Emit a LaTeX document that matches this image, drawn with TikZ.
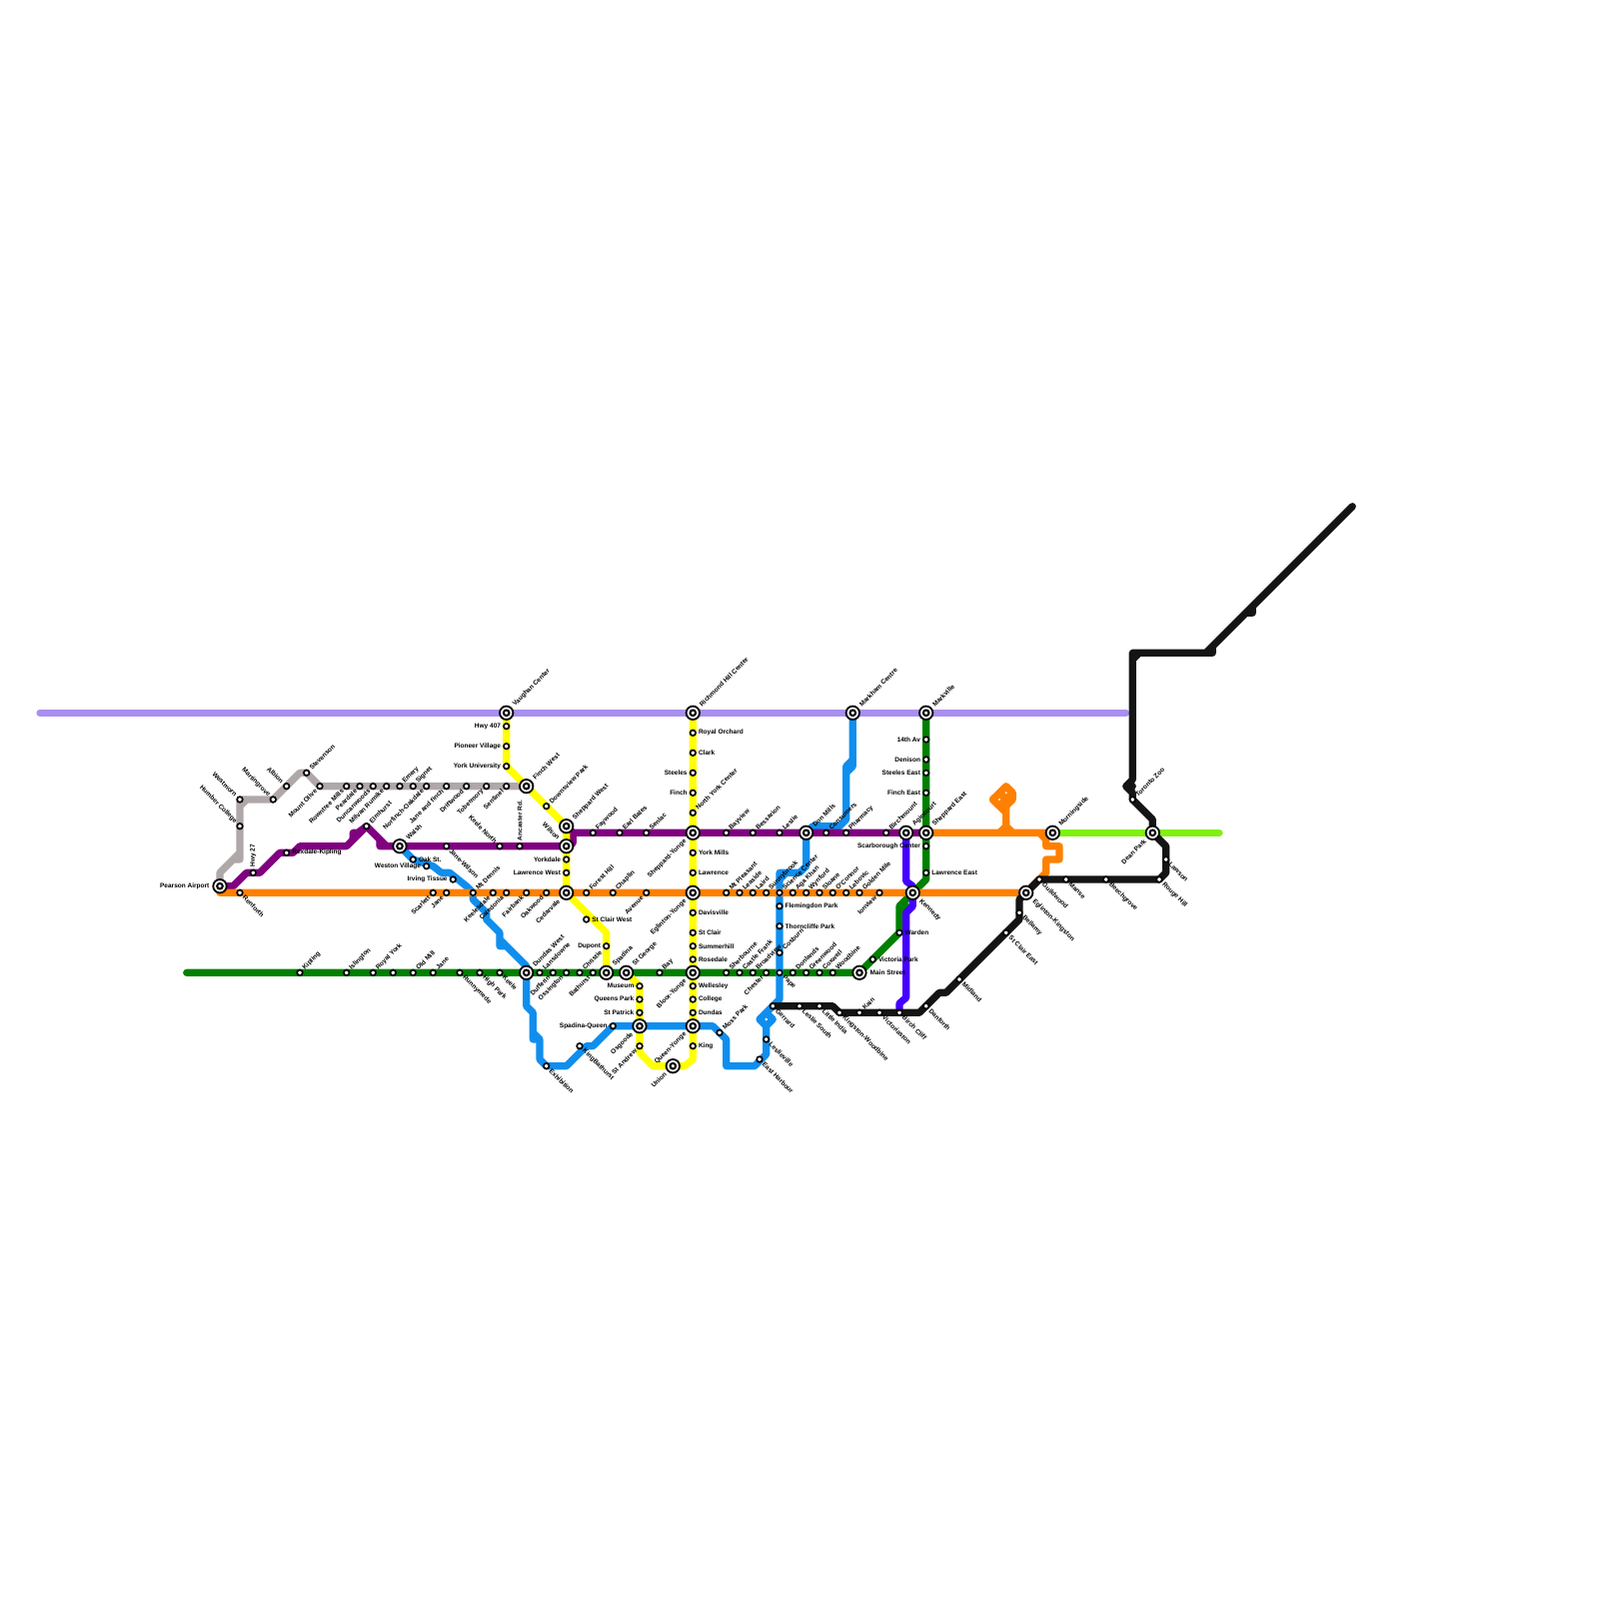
\documentclass[tikz,border=0pt]{standalone}
\usepackage{fontspec}
\setmainfont{Liberation Sans}
\pgfdeclarelayer{lines}
\pgfsetlayers{lines,main}
\tikzset{
  x=0.1mm,y=-0.1mm,
  metro/.style={line width=0.72mm,line cap=round,line join=round},
  stationdot/.style={circle,draw=black,fill=white,line width=0.17mm,minimum size=0.56mm,inner sep=0},
  hubouter/.style={circle,draw=black,fill=white,line width=0.18mm,minimum size=1.34mm,inner sep=0},
  hubinner/.style={circle,draw=black,fill=white,line width=0.2mm,minimum size=0.56mm,inner sep=0},
  holedot/.style={circle,fill=white,minimum size=0.22mm,inner sep=0},
  lab/.style={font=\bfseries\fontsize{1.85}{2.2}\selectfont,text=black,inner sep=0.5mm},
  lR/.style={lab,anchor=west},
  lL/.style={lab,anchor=east},
  lUR/.style={lab,rotate=45,anchor=west},
  lDR/.style={lab,rotate=-45,anchor=west},
  lDL/.style={lab,rotate=45,anchor=east},
  lUL/.style={lab,rotate=-45,anchor=east},
  lU/.style={lab,rotate=90,anchor=west},
}
\definecolor{cLav}{HTML}{A98FEF}
\definecolor{cGrey}{HTML}{B0A8A8}
\definecolor{cBlue}{HTML}{108EEE}
\definecolor{cGreen}{HTML}{008000}
\definecolor{cPurple}{HTML}{800080}
\definecolor{cOrange}{HTML}{FF8000}
\definecolor{cYellow}{HTML}{FFFF00}
\definecolor{cIndigo}{HTML}{4400FF}
\definecolor{cLime}{HTML}{80F010}
\definecolor{cBlack}{HTML}{141414}
\newcommand\stn[5]{\node[stationdot] (#1) at (#2,#3) {}; \node[#4] (#1-t) at (#2,#3) {#5};}
\newcommand\stp[3]{\node[stationdot] (#1) at (#2,#3) {};}
\newcommand\hub[5]{\node[hubouter] (#1) at (#2,#3) {}; \node[hubinner] (#1-i) at (#2,#3) {}; \node[#4,inner sep=1mm] (#1-t) at (#2,#3) {#5};}
\begin{document}
\begin{tikzpicture}
\useasboundingbox (0,0) rectangle (1600,1600);
% interchanges
\hub{pearson}{220}{886.7}{lL}{Pearson Airport}
\hub{finchw}{526.7}{786.7}{lUR}{Finch West}
\hub{walsh}{400}{846.7}{lUR}{Walsh}
\hub{cedarvale}{566.7}{893.3}{lDL}{Cedarvale}
\hub{egyonge}{693.3}{893.3}{lDL}{Eglinton-Yonge}
\hub{wilson}{566.7}{846.7}{lUL}{Wilson}
\hub{shepw}{566.7}{826.7}{lUR}{Sheppard West}
\hub{shepyonge}{693.3}{833.3}{lDL}{Sheppard-Yonge}
\hub{vaughan}{506.7}{713.3}{lUR}{Vaughan Center}
\hub{richmond}{693.3}{713.3}{lUR}{Richmond Hill Center}
\hub{spadina}{606.7}{973.3}{lUR}{Spadina}
\hub{stgeorge}{626.7}{973.3}{lUR}{St George}
\hub{bloor}{693.3}{973.3}{lDL}{Bloor-Yonge}
\hub{dundasw}{526.7}{973.3}{lUR}{Dundas West}
\hub{osgoode}{640}{1026.7}{lDL}{Osgoode}
\hub{union}{673.3}{1066.7}{lDL}{Union}
\hub{queenyonge}{693.3}{1026.7}{lDL}{Queen-Yonge}
\hub{donmills}{806.7}{833.3}{lUR}{Don Mills}
\hub{agincourt}{906.7}{833.3}{lUR}{Agincourt}
\hub{shepe}{926.7}{833.3}{lUR}{Sheppard East}
\hub{kennedy}{913.3}{893.3}{lDR}{Kennedy}
\hub{markham}{853.3}{713.3}{lUR}{Markham Centre}
\hub{markville}{926.7}{713.3}{lUR}{Markville}
\hub{mainst}{860}{973.3}{lR}{Main Street}
\hub{egkingston}{1026.7}{893.3}{lDR}{Eglinton-Kingston}
\hub{morningside}{1053.3}{833.3}{lUR}{Morningside}
\hub{deanpark}{1153.3}{833.3}{lDL}{Dean Park}
% grey
\stn{renforth}{240}{893.3}{lDR}{Renforth}
\stn{hwy27}{253.3}{873.3}{lU}{Hwy 27}
\stn{rexdale}{286.7}{853.3}{lR}{Rexdale-Kipling}
\stn{humber}{240}{826.7}{lUL}{Humber College}
\stn{westmorn}{240}{800}{lUL}{Westmorn}
\stn{martingrove}{273.3}{800}{lUL}{Martingrove}
\stn{albion}{286.7}{786.7}{lUL}{Albion}
\stn{stevenson}{306.7}{773.3}{lUR}{Stevenson}
\stn{mountolive}{320}{786.7}{lDL}{Mount Olive}
\stn{rowntree}{346.7}{786.7}{lDL}{Rowntree Mills}
\stn{peardale}{360}{786.7}{lDL}{Peardale}
\stn{duncan}{373.3}{786.7}{lDL}{Duncanwoods}
\stn{milvan}{386.7}{786.7}{lDL}{Milvan Rumike}
\stn{emery}{400}{786.7}{lUR}{Emery}
\stn{signet}{413.3}{786.7}{lUR}{Signet}
\stn{norfinch}{426.7}{786.7}{lDL}{Norfinch-Oakdale}
\stn{janefinch}{446.7}{786.7}{lDL}{Jane and finch}
\stn{driftwood}{466.7}{786.7}{lDL}{Driftwood}
\stn{tobermory}{486.7}{786.7}{lDL}{Tobermory}
\stn{sentinel}{506.7}{786.7}{lDL}{Sentinel}
% purple
\stn{elmhurst}{366.7}{826.7}{lUR}{Elmhurst}
\stn{janewilson}{446.7}{846.7}{lDR}{Jane-Wilson}
\stn{keelenorth}{500}{846.7}{lUL}{Keele North}
\stn{ancaster}{520}{846.7}{lU}{Ancaster Rd.}
\stn{faywood}{593.3}{833.3}{lUR}{Faywood}
\stn{earlbales}{620}{833.3}{lUR}{Earl Bales}
\stn{senlac}{646.7}{833.3}{lUR}{Senlac}
\stn{bayview}{726.7}{833.3}{lUR}{Bayview}
\stn{bessarion}{753.3}{833.3}{lUR}{Bessarion}
\stn{leslie}{780}{833.3}{lUR}{Leslie}
\stn{consumers}{826.7}{833.3}{lUR}{Consumers}
\stn{pharmacy}{846.7}{833.3}{lUR}{Pharmacy}
\stn{birchmount}{886.7}{833.3}{lUR}{Birchmount}
% blue
\stn{oakst}{413.3}{860}{lR}{Oak St.}
\stn{weston}{426.7}{866.7}{lL}{Weston Village}
\stn{irving}{453.3}{880}{lL}{Irving Tissue}
\stn{spadinaq}{613.3}{1026.7}{lL}{Spadina-Queen}
\stn{kingbathurst}{580}{1046.7}{lDR}{KingBathurst}
\stn{exhibition}{546.7}{1066.7}{lDR}{Exhibition}
\stn{mosspark}{720}{1033.3}{lUR}{Moss Park}
\stn{leslieville}{766.7}{1040}{lDR}{Leslieville}
\stn{eastharbour}{760}{1060}{lDR}{East Harbour}
\stn{flemingdon}{780}{906.7}{lR}{Flemingdon Park}
\stn{thorncliffe}{780}{926.7}{lR}{Thorncliffe Park}
\stn{cosburn}{780}{953.3}{lUR}{Cosburn}
\stn{pape}{780}{973.3}{lDR}{Pape}
% orange
\stn{scarlett}{433.3}{893.3}{lDL}{Scarlett}
\stn{janeo}{446.7}{893.3}{lDL}{Jane}
\stn{mtdennis}{473.3}{893.3}{lUR}{Mt Dennis}
\stn{keelesdale}{493.3}{893.3}{lDL}{Keelesdale}
\stn{caledonia}{506.7}{893.3}{lDL}{Caledonia}
\stn{fairbank}{526.7}{893.3}{lDL}{Fairbank}
\stn{oakwood}{546.7}{893.3}{lDL}{Oakwood}
\stn{foresthill}{586.7}{893.3}{lUR}{Forest Hill}
\stn{chaplin}{613.3}{893.3}{lUR}{Chaplin}
\stn{avenue}{646.7}{893.3}{lDL}{Avenue}
\stn{mtpleasant}{726.7}{893.3}{lUR}{Mt Pleasant}
\stn{leaside}{740}{893.3}{lUR}{Leaside}
\stn{laird}{753.3}{893.3}{lUR}{Laird}
\stn{sunnybrook}{766.7}{893.3}{lUR}{Sunnybrook}
\stn{science}{780}{893.3}{lUR}{Science Center}
\stn{agakhan}{793.3}{893.3}{lUR}{Aga Khan}
\stn{wynford}{806.7}{893.3}{lUR}{Wynford}
\stn{sloane}{820}{893.3}{lUR}{Sloane}
\stn{oconnor}{833.3}{893.3}{lUR}{O'Connor}
\stn{lebovic}{846.7}{893.3}{lUR}{Lebovic}
\stn{goldenmile}{860}{893.3}{lUR}{Golden Mile}
\stn{ionview}{880}{893.3}{lDL}{Ionview}
\stn{guildwood}{1040}{880}{lDR}{Guildwood}
% yellow
\stn{hwy407}{506.7}{726.7}{lL}{Hwy 407}
\stn{pioneer}{506.7}{746.7}{lL}{Pioneer Village}
\stn{yorku}{506.7}{766.7}{lL}{York University}
\stn{downsview}{546.7}{806.7}{lUR}{Downsview Park}
\stn{yorkdale}{566.7}{860}{lL}{Yorkdale}
\stn{lawrencew}{566.7}{873.3}{lL}{Lawrence West}
\stn{stclairw}{586.7}{920}{lR}{St Clair West}
\stn{dupont}{606.7}{946.7}{lL}{Dupont}
\stn{museum}{640}{986.7}{lL}{Museum}
\stn{queenspark}{640}{1000}{lL}{Queens Park}
\stn{stpatrick}{640}{1013.3}{lL}{St Patrick}
\stn{standrew}{640}{1046.7}{lDL}{St Andrew}
\stn{king}{693.3}{1046.7}{lR}{King}
\stn{dundas}{693.3}{1013.3}{lR}{Dundas}
\stn{college}{693.3}{1000}{lR}{College}
\stn{wellesley}{693.3}{986.7}{lR}{Wellesley}
\stn{rosedale}{693.3}{960}{lR}{Rosedale}
\stn{summerhill}{693.3}{946.7}{lR}{Summerhill}
\stn{stclair}{693.3}{933.3}{lR}{St Clair}
\stn{davisville}{693.3}{913.3}{lR}{Davisville}
\stn{lawrence}{693.3}{873.3}{lR}{Lawrence}
\stn{yorkmills}{693.3}{853.3}{lR}{York Mills}
\stn{nyc}{693.3}{813.3}{lUR}{North York Center}
\stn{finch}{693.3}{793.3}{lL}{Finch}
\stn{steeles}{693.3}{773.3}{lL}{Steeles}
\stn{clark}{693.3}{753.3}{lR}{Clark}
\stn{royalorchard}{693.3}{733.3}{lR}{Royal Orchard}
% green
\stn{kipling}{300}{973.3}{lUR}{Kipling}
\stn{islington}{346.7}{973.3}{lUR}{Islington}
\stn{royalyork}{373.3}{973.3}{lUR}{Royal York}
\stp{unnamedg}{393.3}{973.3}
\stn{oldmill}{413.3}{973.3}{lUR}{Old Mill}
\stn{janeg}{433.3}{973.3}{lUR}{Jane}
\stn{runnymede}{460}{973.3}{lDR}{Runnymede}
\stn{highpark}{480}{973.3}{lDR}{High Park}
\stn{keele}{500}{973.3}{lDR}{Keele}
\stn{lansdowne}{540}{973.3}{lUR}{Lansdowne}
\stn{dufferin}{553.3}{973.3}{lDL}{Dufferin}
\stn{ossington}{566.7}{973.3}{lDL}{Ossington}
\stn{christie}{580}{973.3}{lUR}{Christie}
\stn{bathurst}{593.3}{973.3}{lDL}{Bathurst}
\stn{bay}{660}{973.3}{lUR}{Bay}
\stn{sherbourne}{726.7}{973.3}{lUR}{Sherbourne}
\stn{castlefrank}{740}{973.3}{lUR}{Castle Frank}
\stn{broadview}{753.3}{973.3}{lUR}{Broadview}
\stn{chester}{766.7}{973.3}{lDL}{Chester}
\stn{donlands}{793.3}{973.3}{lUR}{Donlands}
\stn{greenwood}{806.7}{973.3}{lUR}{Greenwood}
\stn{coxwell}{820}{973.3}{lUR}{Coxwell}
\stn{woodbine}{833.3}{973.3}{lUR}{Woodbine}
\stn{victoriapark}{873.3}{960}{lR}{Victoria Park}
\stn{warden}{900}{933.3}{lR}{Warden}
\stn{av14}{926.7}{740}{lL}{14th Av}
\stn{denison}{926.7}{760}{lL}{Denison}
\stn{steelese}{926.7}{773.3}{lL}{Steeles East}
\stn{finche}{926.7}{793.3}{lL}{Finch East}
\stn{scarborough}{926.7}{846.7}{lL}{Scarborough Center}
\stn{lawrencee}{926.7}{873.3}{lR}{Lawrence East}
% black
\stn{gerrard}{773.3}{1006.7}{lDR}{Gerrard}
\stn{lesliesouth}{800}{1006.7}{lDR}{Leslie South}
\stn{littleindia}{820}{1006.7}{lDR}{Little India}
\stn{kingstonw}{840}{1013.3}{lDR}{Kingston-Woodbine}
\stn{kain}{860}{1013.3}{lUR}{Kain}
\stn{victoriaston}{880}{1013.3}{lDR}{Victoriaston}
\stn{birchcliff}{900}{1013.3}{lDR}{Birch Cliff}
\stn{danforth}{926.7}{1006.7}{lDR}{Danforth}
\stn{midland}{960}{980}{lDR}{Midland}
\stn{stclaire}{1006.7}{933.3}{lDR}{St Clair East}
\stn{bellamy}{1020}{913.3}{lDR}{Bellamy}
\stn{manse}{1066.7}{880}{lDR}{Manse}
\stn{beechgrove}{1106.7}{880}{lDR}{Beechgrove}
\stn{rougehill}{1160}{880}{lDR}{Rouge Hill}
\stn{lawson}{1166.7}{860}{lDR}{Lawson}
\stn{torontozoo}{1133.3}{800}{lUR}{Toronto Zoo}
% tiny openings left inside the looped lines
\node[holedot] (holea) at (1000,800) {};
\node[holedot] (holeb) at (1006.7,793.3) {};
\node[holedot] (holec) at (766.7,1020) {};
\coordinate (blackend) at (1353.3,506.7);
\coordinate (lavwest) at (40,713.3);
\coordinate (laveast) at (1126.7,713.3);
\coordinate (greenwest) at (186.7,973.3);
\coordinate (limeeast) at (1220,833.3);
\begin{pgfonlayer}{lines}
\fill[white] (0,0) rectangle (1600,1600);
\draw[metro,cLav] (lavwest) -- (laveast);
\draw[metro,cLime] (morningside.center) -- (limeeast);
\draw[metro,cGrey] (pearson.center) -- (220,873.3) -- (240,853.3) -- (240,800) -- (273.3,800) -- (300,773.3) -- (306.7,773.3) -- (320,786.7) -- (finchw.center)
  (233.3,860) -- (240,860) -- (240,853.3) (240,806.7) -- (246.7,800);
\draw[metro,cGreen] (greenwest) -- (mainst.center) -- (900,933.3) -- (900,906.7) -- (kennedy.center) -- (926.7,880) -- (markville.center) (900,913.3) -- (906.7,906.7);
\draw[metro,cBlue] (walsh.center) -- (413.3,860) -- (433.3,866.7) -- (441.7,873.3) -- (450,873.3) -- (466.7,886.7) -- (473.3,893.3) -- (473.3,900) -- (486.7,913.3) -- (486.7,920) -- (500,933.3) -- (500,946.7) -- (506.7,946.7) -- (526.7,966.7) -- (dundasw.center) -- (526.7,1006.7) -- (533.3,1013.3) -- (533.3,1040) -- (540,1040) -- (540,1060) -- (546.7,1066.7) -- (566.7,1066.7) -- (586.7,1046.7) -- (593.3,1046.7) -- (613.3,1026.7) -- (713.3,1026.7) -- (726.7,1040) -- (726.7,1066.7) -- (755,1066.7) -- (766.7,1055) -- (766.7,1026.7) -- (773.3,1020) -- (766.7,1013.3) -- (760,1020) -- (766.7,1026.7) (766.7,1013.3) -- (773.3,1006.7) -- (780,1000) -- (780,873.3) -- (800,873.3) -- (806.7,866.7) -- (donmills.center) -- (813.3,826.7) -- (840,826.7) -- (846.7,820) -- (846.7,766.7) -- (853.3,760) -- (markham.center)
  (500,940) -- (506.7,946.7) (533.3,1033.3) -- (540,1040) (780,880) -- (786.7,873.3) (853.3,766.7) -- (846.7,773.3) (853.3,760) -- (853.3,766.7);
\draw[metro,cIndigo] (agincourt.center) -- (906.7,881.7) -- (913.3,886.7) -- (913.3,906.7) -- (906.7,913.3) -- (906.7,998.3) -- (900,1004) -- (900,1013.3);
\draw[metro,cPurple] (pearson.center) -- (233.3,886.7) -- (246.7,873.3) -- (260,873.3) -- (280,853.3) -- (293.3,853.3) -- (300,846.7) -- (346.7,846.7) -- (353.3,840) -- (353.3,833.3) -- (358,833.3) -- (elmhurst.center) -- (380,840) -- (380,846.7) -- (wilson.center) -- (570,846.7) -- (573.3,843.3) -- (573.3,833.3) -- (shepw.center) (573.3,833.3) -- (shepe.center)
  (346.7,846.7) -- (elmhurst.center) (elmhurst.center) -- (386.7,846.7) (566.7,846.7) -- (573.3,840) (566.7,833.3) -- (573.3,840);
\draw[metro,cYellow] (vaughan.center) -- (yorku.center) -- (shepw.center) -- (cedarvale.center) -- (606.7,933.3) -- (spadina.center);
\draw[metro,cYellow] (richmond.center) -- (693.3,1060) -- (685,1066.7) -- (653.3,1066.7) -- (640,1053.3) -- (640,986.7) -- (stgeorge.center);
\draw[metro,cOrange] (220,893.3) -- (egkingston.center) -- (1046.7,873.3) -- (1046.7,860) -- (1060,860) -- (1060,846.7) -- (1046.7,846.7) -- (1046.7,833.3) (1040,833.3) -- (1046.7,840) (shepe.center) -- (morningside.center);
\draw[metro,cOrange,fill=cOrange] (1000,833.3) -- (1006.7,826.7) -- (1006.7,813.3) -- (993.3,800) -- (1006.7,786.7) -- (1013.3,793.3) -- (1013.3,800) -- (1006.7,806.7) -- (1006.7,826.7) -- (1013.3,833.3);
\draw[metro,cBlack] (blackend) -- (1253.3,606.7) -- (1253.3,613.3) -- (1246.7,613.3) -- (1213.3,646.7) -- (1213.3,653.3) -- (1133.3,653.3) -- (1133.3,780) -- (1126.7,786.7) -- (1133.3,793.3) -- (torontozoo.center) -- (1153.3,820) -- (deanpark.center) -- (1166.7,846.7) -- (1166.7,873.3) -- (rougehill.center) -- (guildwood.center) -- (1020,900) -- (1020,920) -- (946.7,993.3) -- (940,993.3) -- (920,1013.3) -- (kingstonw.center) -- (833.3,1006.7) -- (gerrard.center)
  (1253.3,606.7) -- (1246.7,613.3) (1213.3,646.7) -- (1206.7,653.3) (1133.3,660) -- (1140,653.3) (1133.3,786.7) -- (1126.7,786.7);
\end{pgfonlayer}
\end{tikzpicture}
\end{document}
